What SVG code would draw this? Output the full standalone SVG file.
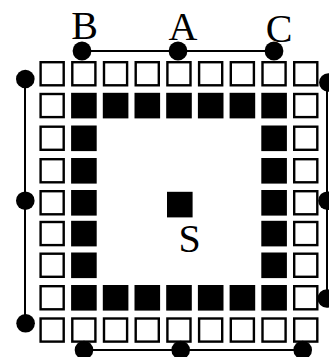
<svg xmlns="http://www.w3.org/2000/svg" width="329" height="357" viewBox="0 0 329 357">
<style>
.w{fill:#fff;stroke:#000;stroke-width:2.4}
.b{fill:#000}
.dot{fill:#000}
.ln{stroke:#000;stroke-width:2;fill:none}
.lbl{font-family:"Liberation Serif","Times New Roman",serif;font-size:40px;fill:#000;text-anchor:middle}
</style>
<defs>
<rect id="ws" class="w" x="1.2" y="1.2" width="23.1" height="23.1"/>
<rect id="bs" class="b" x="0" y="0" width="25.6" height="25.6"/>
</defs>
<g id="connectors">
<line class="ln" x1="82" y1="51" x2="274" y2="51"/>
<line class="ln" x1="25" y1="79" x2="25" y2="323"/>
<line class="ln" x1="327" y1="82" x2="327" y2="298.5"/>
<line class="ln" x1="84" y1="350" x2="303" y2="350"/>
</g>
<g id="grid">
<g id="row1">
<use href="#ws" x="39.4" y="61"/><use href="#ws" x="71.1" y="61"/><use href="#ws" x="102.8" y="61"/><use href="#ws" x="134.5" y="61"/><use href="#ws" x="166.2" y="61"/><use href="#ws" x="197.9" y="61"/><use href="#ws" x="229.6" y="61"/><use href="#ws" x="261.3" y="61"/><use href="#ws" x="293" y="61"/>
</g>
<g id="row2">
<use href="#ws" x="39.4" y="92.8"/><use href="#bs" x="71.1" y="92.8"/><use href="#bs" x="102.8" y="92.8"/><use href="#bs" x="134.5" y="92.8"/><use href="#bs" x="166.2" y="92.8"/><use href="#bs" x="197.9" y="92.8"/><use href="#bs" x="229.6" y="92.8"/><use href="#bs" x="261.3" y="92.8"/><use href="#ws" x="293" y="92.8"/>
</g>
<g id="row3"><use href="#ws" x="39.4" y="125.5"/><use href="#bs" x="71.1" y="125.5"/><use href="#bs" x="261.3" y="125.5"/><use href="#ws" x="293" y="125.5"/></g>
<g id="row4"><use href="#ws" x="39.4" y="158"/><use href="#bs" x="71.1" y="158"/><use href="#bs" x="261.3" y="158"/><use href="#ws" x="293" y="158"/></g>
<g id="row5"><use href="#ws" x="39.4" y="190"/><use href="#bs" x="71.1" y="190"/><use href="#bs" x="261.3" y="190"/><use href="#ws" x="293" y="190"/></g>
<g id="row6"><use href="#ws" x="39.4" y="220.8"/><use href="#bs" x="71.1" y="220.8"/><use href="#bs" x="261.3" y="220.8"/><use href="#ws" x="293" y="220.8"/></g>
<g id="row7"><use href="#ws" x="39.4" y="252.5"/><use href="#bs" x="71.1" y="252.5"/><use href="#bs" x="261.3" y="252.5"/><use href="#ws" x="293" y="252.5"/></g>
<g id="row8">
<use href="#ws" x="39.4" y="285"/><use href="#bs" x="71.1" y="285"/><use href="#bs" x="102.8" y="285"/><use href="#bs" x="134.5" y="285"/><use href="#bs" x="166.2" y="285"/><use href="#bs" x="197.9" y="285"/><use href="#bs" x="229.6" y="285"/><use href="#bs" x="261.3" y="285"/><use href="#ws" x="293" y="285"/>
</g>
<g id="row9">
<use href="#ws" x="39.4" y="317.3"/><use href="#ws" x="71.1" y="317.3"/><use href="#ws" x="102.8" y="317.3"/><use href="#ws" x="134.5" y="317.3"/><use href="#ws" x="166.2" y="317.3"/><use href="#ws" x="197.9" y="317.3"/><use href="#ws" x="229.6" y="317.3"/><use href="#ws" x="261.3" y="317.3"/><use href="#ws" x="293" y="317.3"/>
</g>
</g>
<g id="S"><use href="#bs" x="167" y="191.8"/><text class="lbl" x="189.5" y="251.5">S</text></g>
<g id="B"><circle class="dot" cx="82" cy="51" r="9.4"/><text class="lbl" x="84.5" y="38.5">B</text></g>
<g id="A"><circle class="dot" cx="178" cy="51" r="9.4"/><text class="lbl" x="183" y="40">A</text></g>
<g id="C"><circle class="dot" cx="274" cy="51" r="9.4"/><text class="lbl" x="279" y="42">C</text></g>
<g id="L1"><circle class="dot" cx="25.3" cy="79" r="9.3"/></g>
<g id="L2"><circle class="dot" cx="25.3" cy="200.7" r="9.3"/></g>
<g id="L3"><circle class="dot" cx="25.6" cy="323.3" r="9.3"/></g>
<g id="R1"><circle class="dot" cx="328.3" cy="82.5" r="9.3"/></g>
<g id="R2"><circle class="dot" cx="327.5" cy="200.7" r="9.3"/></g>
<g id="R3"><circle class="dot" cx="326.8" cy="298.5" r="9.3"/></g>
<g id="D1"><circle class="dot" cx="84" cy="350" r="9.3"/></g>
<g id="D2"><circle class="dot" cx="180.7" cy="350" r="9.3"/></g>
<g id="D3"><circle class="dot" cx="302.7" cy="350" r="9.3"/></g>
</svg>
